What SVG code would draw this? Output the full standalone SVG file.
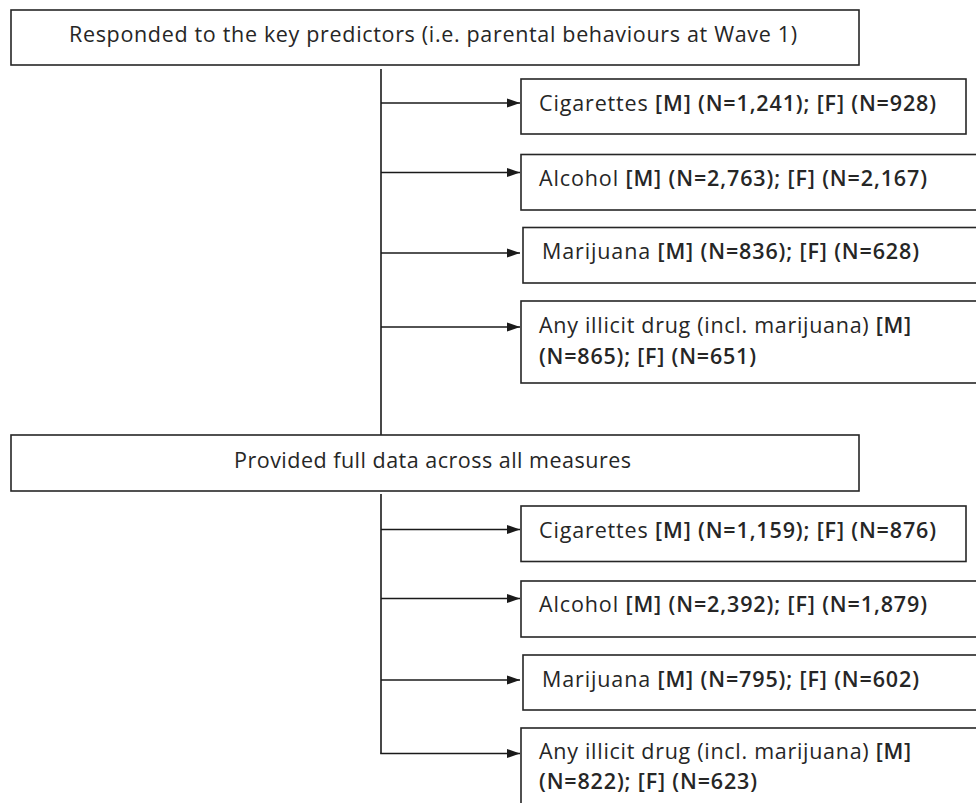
<svg xmlns="http://www.w3.org/2000/svg" width="976" height="803" viewBox="0 0 976 803">
<defs>
<style>
.box{fill:#fff;stroke:#262626;stroke-width:1.6}
.t{font-family:"Open Sans","Liberation Sans",sans-serif;font-size:21.5px;fill:#262626}
.b{font-weight:600}
.ln{fill:none;stroke:#1a1a1a;stroke-width:1.6}
.ar{fill:none;stroke:#1a1a1a;stroke-width:1.6;marker-end:url(#ah)}
</style>
<marker id="ah" markerUnits="userSpaceOnUse" markerWidth="14" markerHeight="10" refX="13" refY="5" orient="auto">
<path d="M0,0.5 L13,5 L0,9.5 z" fill="#1a1a1a"/>
</marker>
</defs>
<rect width="976" height="803" fill="#fff"/>
<g id="connectors">
<path class="ln" d="M381,69 V435"/>
<path class="ar" d="M381,103 H520"/>
<path class="ar" d="M381,172.5 H520"/>
<path class="ar" d="M381,253 H520"/>
<path class="ar" d="M381,327 H520"/>
<path class="ln" d="M381,494 V753.5"/>
<path class="ar" d="M381,529.5 H520"/>
<path class="ar" d="M381,598.5 H520"/>
<path class="ar" d="M381,680 H520"/>
<path class="ar" d="M380.2,753.5 H520"/>
</g>
<g id="n-responded">
<rect class="box" x="11" y="10" width="848" height="55"/>
<text class="t" x="69" y="42" textLength="728">Responded to the key predictors (i.e. parental behaviours at Wave 1)</text>
</g>
<g id="n-cig1">
<rect class="box" x="521" y="79" width="445" height="55"/>
<text class="t" x="539" y="110.5" textLength="397">Cigarettes <tspan class="b">[M] (N=1,241); [F] (N=928)</tspan></text>
</g>
<g id="n-alc1">
<rect class="box" x="521" y="154.5" width="480" height="55.5"/>
<text class="t" x="539" y="186" textLength="388">Alcohol <tspan class="b">[M] (N=2,763); [F] (N=2,167)</tspan></text>
</g>
<g id="n-mar1">
<rect class="box" x="523" y="227.5" width="480" height="55.5"/>
<text class="t" x="542" y="259" textLength="377">Marijuana <tspan class="b">[M] (N=836); [F] (N=628)</tspan></text>
</g>
<g id="n-ill1">
<rect class="box" x="521" y="301" width="480" height="82"/>
<text class="t" x="539" y="333" textLength="372">Any illicit drug (incl. marijuana) <tspan class="b">[M]</tspan></text>
<text class="t b" x="539" y="363.5" textLength="217">(N=865); [F] (N=651)</text>
</g>
<g id="n-provided">
<rect class="box" x="11" y="435" width="848" height="56"/>
<text class="t" x="234" y="468" textLength="397">Provided full data across all measures</text>
</g>
<g id="n-cig2">
<rect class="box" x="521" y="506" width="445" height="55.5"/>
<text class="t" x="539" y="537.5" textLength="397">Cigarettes <tspan class="b">[M] (N=1,159); [F] (N=876)</tspan></text>
</g>
<g id="n-alc2">
<rect class="box" x="521" y="581" width="480" height="56"/>
<text class="t" x="539" y="611.5" textLength="388">Alcohol <tspan class="b">[M] (N=2,392); [F] (N=1,879)</tspan></text>
</g>
<g id="n-mar2">
<rect class="box" x="523" y="655" width="480" height="55"/>
<text class="t" x="542" y="687" textLength="377">Marijuana <tspan class="b">[M] (N=795); [F] (N=602)</tspan></text>
</g>
<g id="n-ill2">
<rect class="box" x="521" y="728" width="480" height="100"/>
<text class="t" x="539" y="759" textLength="372">Any illicit drug (incl. marijuana) <tspan class="b">[M]</tspan></text>
<text class="t b" x="539" y="789" textLength="218">(N=822); [F] (N=623)</text>
</g>
</svg>
